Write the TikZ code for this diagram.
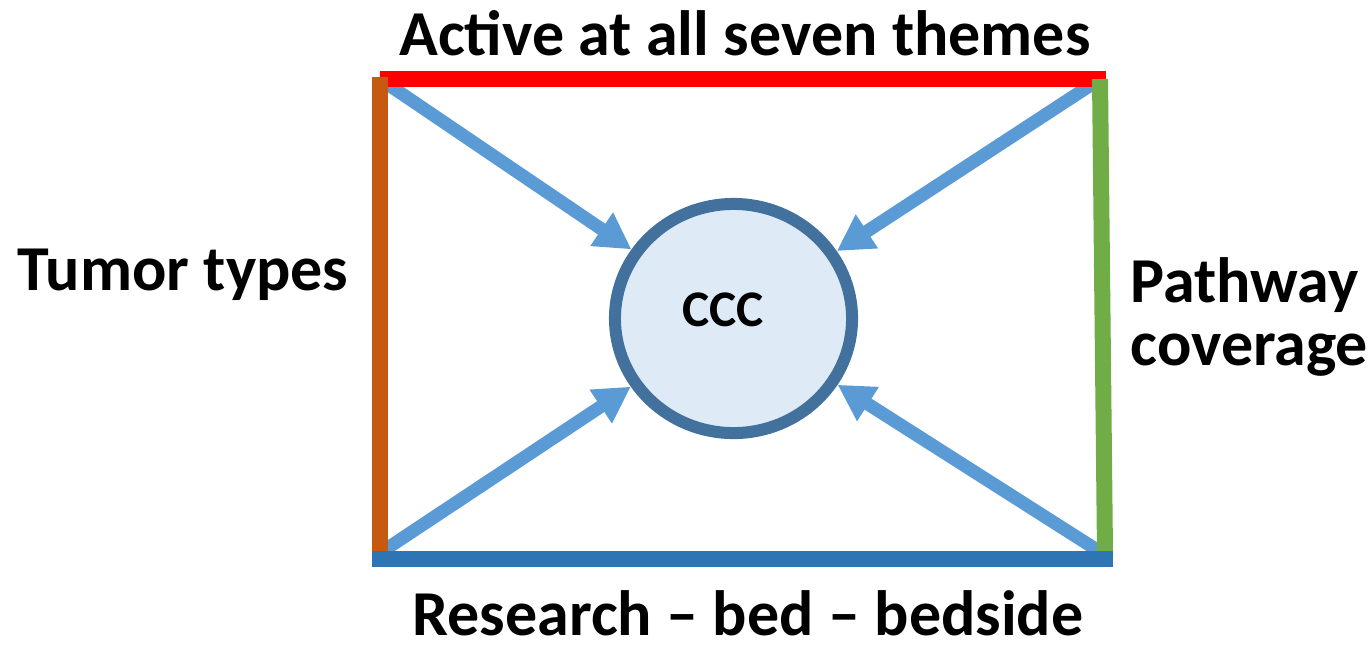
\documentclass[tikz,border=0pt]{standalone}
\usepackage{fontspec}
\setmainfont{Carlito}
\usetikzlibrary{arrows.meta,shapes.geometric}
\definecolor{topred}{HTML}{FF0000}
\definecolor{leftorange}{HTML}{C55A11}
\definecolor{rightgreen}{HTML}{70AD47}
\definecolor{bottomblue}{HTML}{2E75B6}
\definecolor{arrowblue}{HTML}{5B9BD5}
\definecolor{ringblue}{HTML}{41719C}
\definecolor{ringfill}{HTML}{DEEBF7}
\tikzset{
  bar/.style={line width=0.16cm},
  feed/.style={arrowblue, line width=0.13cm, -{Triangle[length=0.36cm,width=0.38cm]}},
  label/.style={font=\bfseries\fontsize{18.2}{17.9}\selectfont, inner sep=0pt}
}
\begin{document}
\begin{tikzpicture}[x=0.01cm, y=-0.01cm, line join=round]
	\useasboundingbox (0,0) rectangle (1371,645);
	\path 
	(380,79) coordinate (A)
	(1100,79) coordinate (B)
	(1105,555) coordinate (C)
	(380,553) coordinate (D)
	(372,559) coordinate (bl)
	(1113,559) coordinate (br)
	(1106,79) coordinate (redR)
	(380,77) coordinate (orT)
	(1100,79) coordinate (grT);
	\node[ellipse, draw=ringblue, fill=ringfill, line width=0.12cm, inner sep=0pt,
	minimum width=2.37cm, minimum height=2.29cm] (ccc) at (733.5,318.5) {};
	\node[font=\bfseries\fontsize{14.6}{16}\selectfont] (ccclabel) at (723,310) {CCC};
	\foreach \p in {A,B,C,D}
	\draw[feed] (\p) -- (ccc);
	\draw[bar, topred] (A) -- (redR);
	\draw[bar, leftorange] (orT) -- (D);
	\draw[bar, rightgreen] (grT) -- (C);
	\draw[bar, bottomblue] (bl) -- (br);
	\node[label, anchor=base] (top) at (745,55) {Active at all seven themes};
	\node[label, anchor=base] (left) at (183,290) {Tumor types};
	\node[label, anchor=base west, align=left] (right) at (1130,365) {Pathway\\coverage};
	\node[label, anchor=base] (bottom) at (748,635) {Research – bed – bedside};
\end{tikzpicture}
\end{document}
